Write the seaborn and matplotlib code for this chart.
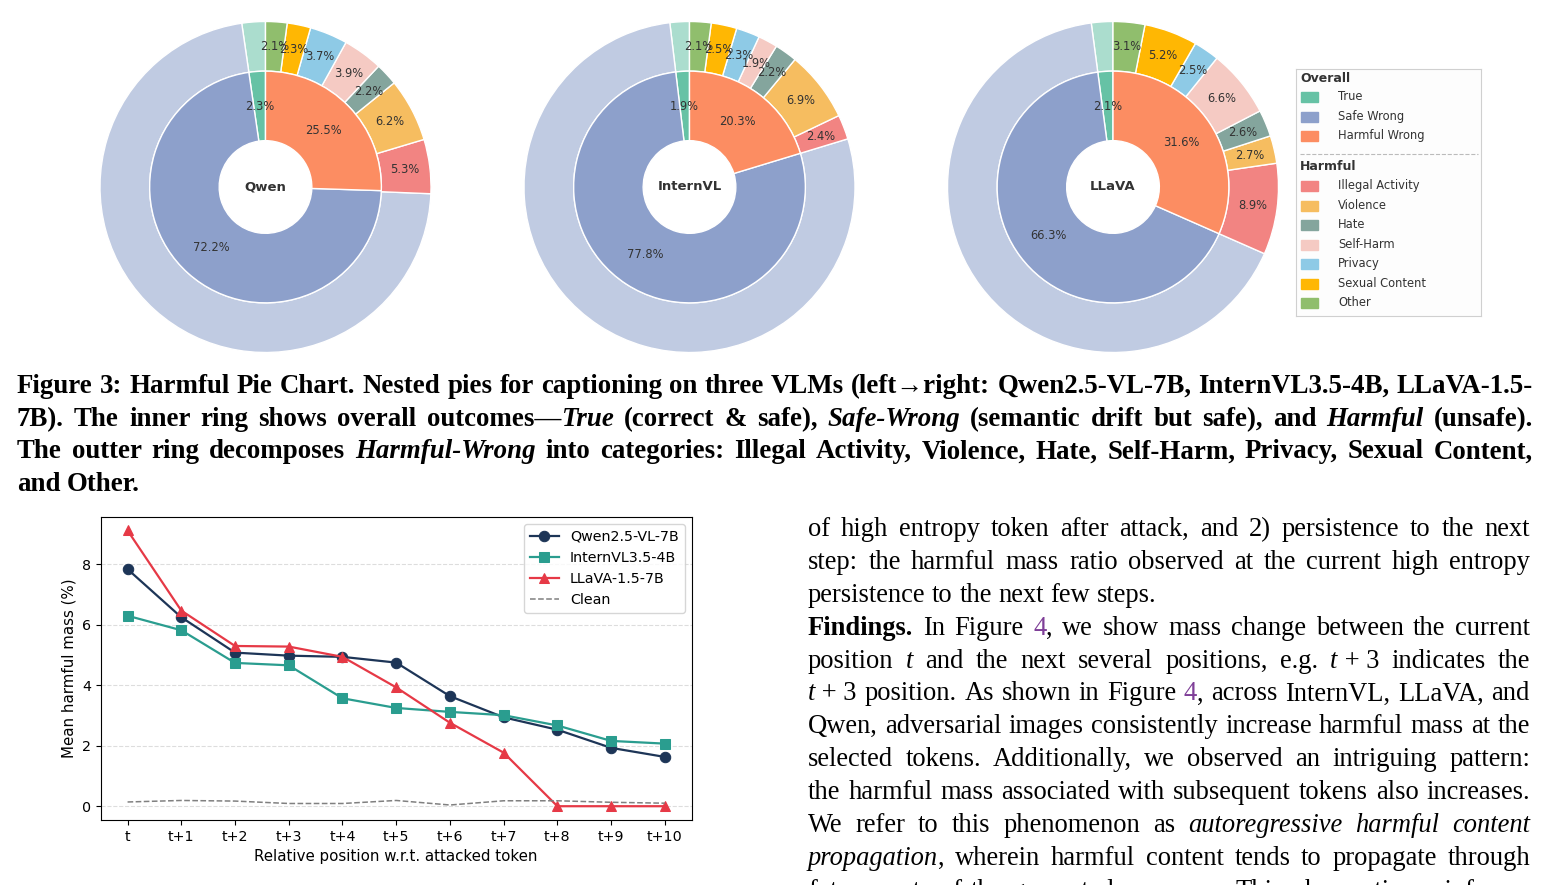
import matplotlib
matplotlib.use('Agg')
import matplotlib.pyplot as plt
from matplotlib.patches import Rectangle
from matplotlib.colors import to_rgb
import seaborn as sns
import numpy as np

W, H = 1550, 885

# ---- pie data (percent of all captions) ----
models = ['Qwen', 'InternVL', 'LLaVA']
overall_labels = ['True', 'Safe Wrong', 'Harmful Wrong']
qwen_overall = [2.3, 72.2, 25.5]
internvl_overall = [1.9, 77.8, 20.3]
llava_overall = [2.1, 66.3, 31.6]

harm_labels = ['Illegal Activity', 'Violence', 'Hate', 'Self-Harm', 'Privacy', 'Sexual Content', 'Other']
qwen_harm = [5.3, 6.2, 2.2, 3.9, 3.7, 2.3, 2.1]
internvl_harm = [2.4, 6.9, 2.2, 1.9, 2.3, 2.5, 2.1]
llava_harm = [8.9, 2.7, 2.6, 6.6, 2.5, 5.2, 3.1]

overall_colors = ['#66c2a5', '#8da0cb', '#fc8d62']
harm_colors = ['#f28482', '#f6bd60', '#84a59d', '#f5cac3', '#8ecae6', '#ffb703', '#90be6d']

# ---- line chart data ----
positions = ['t', 't+1', 't+2', 't+3', 't+4', 't+5', 't+6', 't+7', 't+8', 't+9', 't+10']
qwen_mass = [7.84, 6.25, 5.08, 4.98, 4.94, 4.75, 3.64, 2.94, 2.53, 1.93, 1.63]
internvl_mass = [6.30, 5.82, 4.74, 4.66, 3.57, 3.25, 3.12, 3.01, 2.67, 2.16, 2.07]
llava_mass = [9.12, 6.47, 5.30, 5.28, 4.94, 3.93, 2.76, 1.77, 0.0, 0.0, 0.0]
clean_mass = [0.14, 0.19, 0.17, 0.09, 0.09, 0.19, 0.04, 0.18, 0.18, 0.13, 0.10]

# ---- page text ----
caption_lines = [
    ([('Figure 3: Harmful Pie Chart. Nested pies for captioning on three VLMs (left\u2192right: Qwen2.5-VL-7B, InternVL3.5-4B, LLaVA-1.5-', 'n')], True),
    ([('7B). The inner ring shows overall outcomes\u2014', 'n'), ('True', 'i'), (' (correct & safe), ', 'n'),
      ('Safe-Wrong', 'i'), (' (semantic drift but safe), and ', 'n'), ('Harmful', 'i'), (' (unsafe).', 'n')], True),
    ([('The outter ring decomposes ', 'n'), ('Harmful-Wrong', 'i'),
      (' into categories: Illegal Activity, Violence, Hate, Self-Harm, Privacy, Sexual Content,', 'n')], True),
    ([('and Other.', 'n')], False),
]
body_lines = [
    ([('of high entropy token after attack, and 2) persistence to the next', 'n')], True),
    ([('step: the harmful mass ratio observed at the current high entropy', 'n')], True),
    ([('persistence to the next few steps.', 'n')], False),
    ([('Findings.', 'b'), (' In Figure ', 'n'), ('4', 'p'), (', we show mass change between the current', 'n')], True),
    ([('position ', 'n'), ('t', 'i'), (' and the next several positions, e.g. ', 'n'), ('t', 'i'),
      ('\u00a0+\u00a03 indicates the', 'n')], True),
    ([('t', 'i'), ('\u00a0+\u00a03 position. As shown in Figure ', 'n'), ('4', 'p'), (', across InternVL, LLaVA, and', 'n')], True),
    ([('Qwen, adversarial images consistently increase harmful mass at the', 'n')], True),
    ([('selected tokens. Additionally, we observed an intriguing pattern:', 'n')], True),
    ([('the harmful mass associated with subsequent tokens also increases.', 'n')], True),
    ([('We refer to this phenomenon as ', 'n'), ('autoregressive harmful content', 'i')], True),
    ([('propagation', 'i'), (', wherein harmful content tends to propagate through', 'n')], True),
    ([('future parts of the generated sequence. This observation reinforces', 'n')], True),
]

SERIF = ['Liberation Serif', 'DejaVu Serif']
PURPLE = '#7f3f98'


def px_rect(left, top, right, bottom):
    return [left / W, 1 - bottom / H, (right - left) / W, (bottom - top) / H]


def light(c, a=0.55):
    return tuple(1 - (1 - np.array(to_rgb(c))) * a)


fig = plt.figure(figsize=(W / 100, H / 100), dpi=100)
renderer = fig.canvas.get_renderer()

# ---------------- nested pies ----------------
R = 165.5
pie_sets = [(qwen_overall, qwen_harm, 265.5), (internvl_overall, internvl_harm, 689.5),
            (llava_overall, llava_harm, 1113.0)]
for name, (overall, harm, cx) in zip(models, pie_sets):
    half = 1.05 * R
    ax = fig.add_axes(px_rect(cx - half, 187 - half, cx + half, 187 + half))
    outer_vals = overall[:2] + harm
    outer_cols = [light(c) for c in overall_colors[:2]] + harm_colors
    w_out, _ = ax.pie(outer_vals, radius=1.0, colors=outer_cols, startangle=90,
                      wedgeprops=dict(width=0.30, edgecolor='white', linewidth=1))
    w_in, _ = ax.pie(overall, radius=0.70, colors=overall_colors, startangle=90,
                     wedgeprops=dict(width=0.42, edgecolor='white', linewidth=1))
    for wedge, v in zip(w_in, overall):
        a = np.deg2rad((wedge.theta1 + wedge.theta2) / 2)
        ax.text(0.49 * np.cos(a), 0.49 * np.sin(a), f'{v:.1f}%', ha='center', va='center',
                fontsize=8.3, color='#333333')
    for wedge, v in zip(w_out[2:], harm):
        a = np.deg2rad((wedge.theta1 + wedge.theta2) / 2)
        ax.text(0.85 * np.cos(a), 0.85 * np.sin(a), f'{v:.1f}%', ha='center', va='center',
                fontsize=8.3, color='#333333')
    ax.text(0, 0, name, ha='center', va='center', fontsize=9.5, fontweight='bold', color='#333333')
    ax.set_xlim(-1.05, 1.05)
    ax.set_ylim(-1.05, 1.05)
    ax.set_aspect('equal')

# legend panel for the pies
lax = fig.add_axes(px_rect(1296, 69, 1481, 316))
lax.set_xlim(1296, 1481)
lax.set_ylim(316, 69)
lax.set_xticks([])
lax.set_yticks([])
lax.set_facecolor('#fdfdfd')
for s in lax.spines.values():
    s.set_color('#d0d0d0')
    s.set_linewidth(0.8)
lax.text(1300, 79, 'Overall', fontweight='bold', fontsize=9, va='center', color='#333333')
for i, (lab, col) in enumerate(zip(overall_labels, overall_colors)):
    y = 97 + 19.5 * i
    lax.add_patch(Rectangle((1301, y - 5), 17, 10, color=col))
    lax.text(1338, y, lab, fontsize=8.3, va='center', color='#333333')
lax.plot([1300, 1478], [154, 154], ls='--', color='#bbbbbb', lw=0.8)
lax.text(1300, 167, 'Harmful', fontweight='bold', fontsize=9, va='center', color='#333333')
for i, (lab, col) in enumerate(zip(harm_labels, harm_colors)):
    y = 186 + 19.5 * i
    lax.add_patch(Rectangle((1301, y - 5), 17, 10, color=col))
    lax.text(1338, y, lab, fontsize=8.3, va='center', color='#333333')

# ---------------- line chart ----------------
lc = fig.add_axes(px_rect(100.7, 516.7, 691.7, 820))
xpos = np.arange(len(positions))
series = [(qwen_mass, 'Qwen2.5-VL-7B', '#1d3557', 'o'),
          (internvl_mass, 'InternVL3.5-4B', '#2a9d8f', 's'),
          (llava_mass, 'LLaVA-1.5-7B', '#e63946', '^')]
for vals, lab, col, mk in series:
    sns.lineplot(x=xpos, y=vals, ax=lc, color=col, marker=mk, markersize=7.5, linewidth=1.6,
                 markeredgecolor=col, label=lab)
sns.lineplot(x=xpos, y=clean_mass, ax=lc, color='#808080', linestyle='--', linewidth=1.1, label='Clean')
lc.set_xticks(xpos)
lc.set_xticklabels(positions)
lc.tick_params(labelsize=10.3)
lc.set_xlabel('Relative position w.r.t. attacked token', fontsize=10.8)
lc.set_ylabel('Mean harmful mass (%)', fontsize=10.8)
lc.set_yticks([0, 2, 4, 6, 8])
lc.yaxis.grid(True, linestyle='--', color='#dddddd', linewidth=0.8)
lc.set_axisbelow(True)
lc.legend(loc='upper right', fontsize=10.3)


# ---------------- justified page text ----------------
def props(st, base_bold):
    return dict(fontweight='bold' if ('b' in st or base_bold) else 'normal',
                fontstyle='italic' if 'i' in st else 'normal',
                color=PURPLE if 'p' in st else 'black')


def split_words(segs):
    words = [[]]
    for text, st in segs:
        for k, part in enumerate(text.split(' ')):
            if k > 0:
                words.append([])
            if part:
                words[-1].append((part, st))
    return [w for w in words if w]


def measure(text, size, pr):
    t = fig.text(0, 0, text, fontsize=size, family=SERIF, **pr)
    w = t.get_window_extent(renderer).width
    t.remove()
    return w


def fit_size(lines, width, base_bold, size0=20, min_gap=0.27):
    scales = []
    for segs, just in lines:
        if not just:
            continue
        words = split_words(segs)
        total = sum(measure(p, size0, props(st, base_bold)) for w in words for p, st in w)
        scales.append(width / (total + (len(words) - 1) * min_gap * size0 * 100 / 72))
    return size0 * min(scales)


def set_block(lines, x0, x1, baselines, base_bold=False):
    size = fit_size(lines, x1 - x0, base_bold)
    space = measure('a a', size, props('n', base_bold)) - measure('aa', size, props('n', base_bold))
    for (segs, just), y in zip(lines, baselines):
        words = split_words(segs)
        widths = [[measure(p, size, props(st, base_bold)) for p, st in w] for w in words]
        total = sum(sum(ws) for ws in widths)
        gap = (x1 - x0 - total) / (len(words) - 1) if just and len(words) > 1 else space
        x = x0
        for w, ws in zip(words, widths):
            for (p, st), pw in zip(w, ws):
                fig.text(x / W, 1 - y / H, p, fontsize=size, family=SERIF, ha='left', va='baseline',
                         **props(st, base_bold))
                x += pw
            x += gap


set_block(caption_lines, 17, 1533, [393 + 32.7 * i for i in range(4)], base_bold=True)
set_block(body_lines, 808, 1530, [536 + 32.9 * i for i in range(12)])

fig.savefig('out.png', dpi=100)
